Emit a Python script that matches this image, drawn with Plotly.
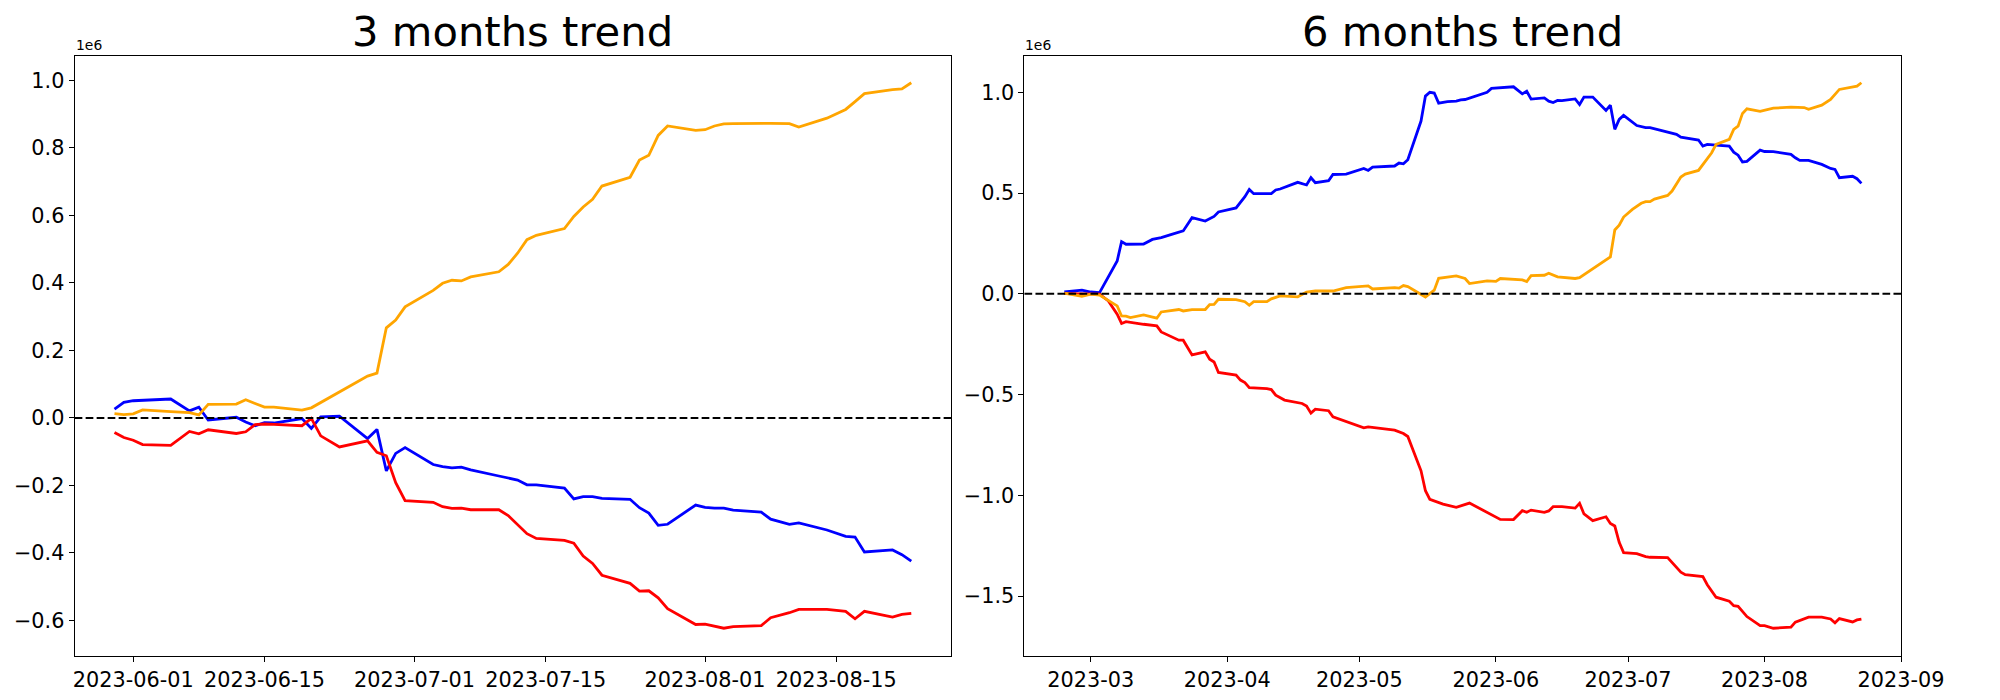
import pandas as pd
import plotly.graph_objects as go

# ---------------- 3 months panel (values in millions) ----------------
dates_3m = ["05-30", "05-31", "06-01", "06-02", "06-05", "06-07", "06-08", "06-09", "06-12", "06-13",
            "06-14", "06-15", "06-16", "06-19", "06-20", "06-21", "06-23", "06-26", "06-27", "06-28",
            "06-29", "06-30", "07-03", "07-04", "07-05", "07-06", "07-07", "07-10", "07-11", "07-12",
            "07-13", "07-14", "07-17", "07-18", "07-19", "07-20", "07-21", "07-24", "07-25", "07-26",
            "07-27", "07-28", "07-31", "08-01", "08-02", "08-03", "08-04", "08-07", "08-08", "08-10",
            "08-11", "08-14", "08-16", "08-17", "08-18", "08-21", "08-22", "08-23"]
blue_3m = [0.026, 0.046, 0.051, 0.052, 0.056, 0.021, 0.032, -0.006, 0.002, -0.012,
           -0.023, -0.014, -0.015, -0.002, -0.031, 0.003, 0.005, -0.061, -0.034, -0.157,
           -0.105, -0.088, -0.138, -0.144, -0.148, -0.146, -0.154, -0.172, -0.177, -0.184,
           -0.198, -0.198, -0.208, -0.240, -0.233, -0.233, -0.238, -0.241, -0.266, -0.282,
           -0.318, -0.315, -0.258, -0.265, -0.267, -0.267, -0.273, -0.279, -0.300, -0.315,
           -0.311, -0.332, -0.351, -0.353, -0.397, -0.391, -0.405, -0.424]
orange_3m = [0.013, 0.010, 0.012, 0.024, 0.019, 0.016, 0.009, 0.040, 0.041, 0.054,
             0.043, 0.032, 0.032, 0.023, 0.030, 0.046, 0.077, 0.124, 0.133, 0.267,
             0.290, 0.329, 0.378, 0.399, 0.408, 0.406, 0.418, 0.433, 0.455, 0.488,
             0.528, 0.541, 0.561, 0.597, 0.625, 0.648, 0.687, 0.713, 0.764, 0.778,
             0.837, 0.865, 0.852, 0.854, 0.865, 0.871, 0.872, 0.874, 0.873, 0.872,
             0.862, 0.888, 0.914, 0.937, 0.961, 0.973, 0.975, 0.993]
red_3m = [-0.043, -0.058, -0.066, -0.079, -0.081, -0.040, -0.047, -0.035, -0.046, -0.041,
          -0.020, -0.018, -0.019, -0.023, -0.001, -0.053, -0.086, -0.068, -0.102, -0.112,
          -0.192, -0.245, -0.250, -0.263, -0.268, -0.267, -0.272, -0.272, -0.289, -0.315,
          -0.343, -0.357, -0.363, -0.371, -0.409, -0.431, -0.466, -0.490, -0.513, -0.512,
          -0.533, -0.565, -0.612, -0.611, -0.617, -0.623, -0.618, -0.615, -0.592, -0.577,
          -0.567, -0.567, -0.573, -0.595, -0.573, -0.590, -0.582, -0.579]

# ---------------- 6 months panel (values in millions) ----------------
blue_6m_dates = ["02-23", "02-27", "03-01", "03-03", "03-07", "03-08", "03-09", "03-13", "03-15", "03-17",
                 "03-19", "03-22", "03-24", "03-27", "03-29", "03-30", "04-03", "04-04", "04-05", "04-06",
                 "04-07", "04-11", "04-12", "04-13", "04-17", "04-19", "04-20", "04-21", "04-24", "04-25",
                 "04-28", "05-02", "05-03", "05-04", "05-09", "05-10", "05-11", "05-12", "05-15", "05-16",
                 "05-17", "05-18", "05-19", "05-21", "05-23", "05-24", "05-25", "05-30", "05-31", "06-05",
                 "06-07", "06-08", "06-09", "06-12", "06-13", "06-14", "06-15", "06-16", "06-19", "06-20",
                 "06-21", "06-23", "06-26", "06-27", "06-28", "06-29", "06-30", "07-03", "07-05", "07-06",
                 "07-10", "07-12", "07-13", "07-17", "07-18", "07-19", "07-21", "07-24", "07-25", "07-26",
                 "07-27", "07-28", "07-31", "08-01", "08-03", "08-07", "08-08", "08-09", "08-11", "08-14",
                 "08-16", "08-17", "08-18", "08-21", "08-22", "08-23"]
blue_6m = [0.009, 0.018, 0.009, 0.006, 0.163, 0.259, 0.246, 0.247, 0.270, 0.279,
           0.292, 0.312, 0.378, 0.361, 0.384, 0.406, 0.426, 0.452, 0.482, 0.518,
           0.497, 0.497, 0.515, 0.520, 0.553, 0.540, 0.576, 0.551, 0.561, 0.592,
           0.594, 0.622, 0.612, 0.629, 0.634, 0.649, 0.645, 0.665, 0.857, 0.981,
           1.000, 0.996, 0.946, 0.954, 0.956, 0.962, 0.964, 1.000, 1.019, 1.027,
           0.992, 1.005, 0.966, 0.972, 0.956, 0.949, 0.959, 0.958, 0.967, 0.939,
           0.976, 0.976, 0.910, 0.936, 0.816, 0.865, 0.885, 0.835, 0.824, 0.824,
           0.802, 0.791, 0.777, 0.763, 0.733, 0.741, 0.738, 0.733, 0.703, 0.688,
           0.654, 0.657, 0.713, 0.706, 0.705, 0.692, 0.675, 0.662, 0.662, 0.642,
           0.622, 0.617, 0.576, 0.583, 0.571, 0.548]

orange_6m_dates = ["02-23", "02-27", "03-01", "03-03", "03-07", "03-08", "03-09", "03-10", "03-13", "03-15",
                   "03-16", "03-17", "03-21", "03-22", "03-24", "03-27", "03-28", "03-29", "03-30", "04-03",
                   "04-05", "04-06", "04-07", "04-10", "04-11", "04-13", "04-17", "04-19", "04-21", "04-25",
                   "04-28", "05-03", "05-04", "05-09", "05-10", "05-11", "05-12", "05-16", "05-18", "05-19",
                   "05-23", "05-25", "05-26", "05-30", "06-01", "06-02", "06-07", "06-08", "06-09", "06-12",
                   "06-13", "06-15", "06-19", "06-20", "06-26", "06-27", "06-28", "06-29", "06-30", "07-02",
                   "07-04", "07-05", "07-06", "07-07", "07-10", "07-11", "07-13", "07-14", "07-17", "07-19",
                   "07-20", "07-21", "07-24", "07-25", "07-26", "07-27", "07-28", "07-31", "08-03", "08-07",
                   "08-10", "08-11", "08-14", "08-16", "08-18", "08-22", "08-23"]
orange_6m = [0.004, -0.012, -0.002, -0.006, -0.060, -0.110, -0.111, -0.118, -0.105, -0.118,
             -0.121, -0.090, -0.078, -0.085, -0.078, -0.078, -0.053, -0.052, -0.027, -0.029,
             -0.039, -0.057, -0.039, -0.039, -0.025, -0.010, -0.015, 0.009, 0.014, 0.014,
             0.031, 0.039, 0.024, 0.031, 0.028, 0.041, 0.036, -0.016, 0.018, 0.077,
             0.089, 0.076, 0.051, 0.064, 0.062, 0.076, 0.069, 0.061, 0.090, 0.092,
             0.102, 0.084, 0.076, 0.080, 0.171, 0.183, 0.317, 0.340, 0.381, 0.419,
             0.449, 0.457, 0.457, 0.470, 0.488, 0.510, 0.579, 0.594, 0.612, 0.667,
             0.700, 0.741, 0.766, 0.816, 0.832, 0.895, 0.918, 0.905, 0.921, 0.926,
             0.924, 0.915, 0.936, 0.964, 1.014, 1.030, 1.047]

red_6m_dates = ["02-23", "03-01", "03-03", "03-05", "03-07", "03-08", "03-09", "03-13", "03-16", "03-17",
                "03-21", "03-22", "03-24", "03-27", "03-28", "03-29", "03-30", "04-03", "04-04", "04-05",
                "04-06", "04-10", "04-11", "04-12", "04-14", "04-18", "04-19", "04-20", "04-21", "04-24",
                "04-25", "05-02", "05-03", "05-09", "05-11", "05-12", "05-15", "05-16", "05-17", "05-20",
                "05-23", "05-26", "05-31", "06-02", "06-05", "06-07", "06-08", "06-09", "06-12", "06-13",
                "06-14", "06-16", "06-19", "06-20", "06-21", "06-23", "06-26", "06-27", "06-28", "06-29",
                "06-30", "07-03", "07-05", "07-06", "07-10", "07-11", "07-13", "07-14", "07-18", "07-19",
                "07-20", "07-21", "07-24", "07-25", "07-26", "07-28", "07-31", "08-01", "08-03", "08-07",
                "08-08", "08-11", "08-14", "08-16", "08-17", "08-18", "08-21", "08-22", "08-23"]
red_6m = [0.001, -0.002, -0.002, -0.035, -0.101, -0.147, -0.138, -0.151, -0.159, -0.189,
          -0.230, -0.230, -0.303, -0.288, -0.324, -0.338, -0.390, -0.403, -0.428, -0.440,
          -0.465, -0.470, -0.475, -0.503, -0.527, -0.544, -0.557, -0.592, -0.572, -0.580,
          -0.610, -0.665, -0.660, -0.676, -0.693, -0.708, -0.878, -0.977, -1.020, -1.043,
          -1.059, -1.038, -1.097, -1.119, -1.120, -1.076, -1.084, -1.073, -1.084, -1.077,
          -1.056, -1.056, -1.063, -1.039, -1.092, -1.125, -1.106, -1.139, -1.152, -1.233,
          -1.284, -1.289, -1.304, -1.307, -1.309, -1.332, -1.381, -1.393, -1.403, -1.443,
          -1.472, -1.505, -1.525, -1.547, -1.550, -1.601, -1.646, -1.646, -1.659, -1.654,
          -1.629, -1.604, -1.604, -1.613, -1.632, -1.611, -1.628, -1.618, -1.614]

titles = ["3 months trend", "6 months trend"]
ticks_3m = ["2023-06-01", "2023-06-15", "2023-07-01", "2023-07-15", "2023-08-01", "2023-08-15"]
ticks_6m = ["2023-03-01", "2023-04-01", "2023-05-01", "2023-06-01", "2023-07-01", "2023-08-01", "2023-09-01"]
yticks_3m = [-0.6, -0.4, -0.2, 0.0, 0.2, 0.4, 0.6, 0.8, 1.0]
yticks_6m = [-1.5, -1.0, -0.5, 0.0, 0.5, 1.0]
SCALE = 1e6

FONT = "DejaVu Sans"
W, H = 2000, 700


def px_x(p):
    return p / W


def px_y(p):
    return 1 - p / H


def to_dates(lst):
    return pd.to_datetime(["2023-" + s for s in lst])


def pad_range(vals, frac=0.05):
    lo, hi = min(vals), max(vals)
    p = (hi - lo) * frac
    return [lo - p, hi + p]


def fmt(v):
    s = f"{v:.1f}"
    return s.replace("-", "\u2212")


fig = go.Figure()

d3 = to_dates(dates_3m)
for vals, col in [(blue_3m, "blue"), (red_3m, "red"), (orange_3m, "orange")]:
    fig.add_trace(go.Scatter(x=d3, y=[v * SCALE for v in vals], mode="lines",
                             line=dict(color=col, width=2.8), xaxis="x", yaxis="y",
                             showlegend=False, hoverinfo="skip"))

for dl, vals, col in [(blue_6m_dates, blue_6m, "blue"), (red_6m_dates, red_6m, "red"),
                      (orange_6m_dates, orange_6m, "orange")]:
    fig.add_trace(go.Scatter(x=to_dates(dl), y=[v * SCALE for v in vals], mode="lines",
                             line=dict(color=col, width=2.8), xaxis="x2", yaxis="y2",
                             showlegend=False, hoverinfo="skip"))

# axis ranges like matplotlib (5% margins)
x3 = [d3.min(), d3.max()]
span3 = x3[1] - x3[0]
xr3 = [x3[0] - span3 * 0.05, x3[1] + span3 * 0.05]
all6 = to_dates(blue_6m_dates + orange_6m_dates + red_6m_dates)
x6 = [all6.min(), all6.max()]
span6 = x6[1] - x6[0]
xr6 = [x6[0] - span6 * 0.05, x6[1] + span6 * 0.05]
yr3 = [v * SCALE for v in pad_range(blue_3m + orange_3m + red_3m)]
yr6 = [v * SCALE for v in pad_range(blue_6m + orange_6m + red_6m)]

dom_x1 = [px_x(75.3), px_x(971.5)]
dom_x2 = [px_x(1046.5), px_x(1943)]
dom_y = [px_y(655.5), px_y(55.5)]

tickfont = dict(family=FONT, size=20.8, color="black")
common = dict(showline=True, linecolor="black", linewidth=1.1, mirror=True,
              ticks="outside", ticklen=5, tickwidth=1.1, tickcolor="black",
              showgrid=False, zeroline=False, tickfont=tickfont)

fig.update_layout(
    width=W, height=H,
    margin=dict(l=0, r=0, t=0, b=0),
    paper_bgcolor="white", plot_bgcolor="white",
    font=dict(family=FONT, color="black"),
    xaxis=dict(domain=dom_x1, anchor="y", type="date", range=[str(xr3[0]), str(xr3[1])],
               tickvals=ticks_3m, ticktext=ticks_3m, **common),
    yaxis=dict(domain=dom_y, anchor="x", range=yr3,
               tickvals=[t * SCALE for t in yticks_3m], ticktext=[fmt(t) for t in yticks_3m], **common),
    xaxis2=dict(domain=dom_x2, anchor="y2", type="date", range=[str(xr6[0]), str(xr6[1])],
                tickvals=ticks_6m, ticktext=[t[:7] for t in ticks_6m], **common),
    yaxis2=dict(domain=dom_y, anchor="x2", range=yr6,
                tickvals=[t * SCALE for t in yticks_6m], ticktext=[fmt(t) for t in yticks_6m], **common),
)

dash = "7.7px,3.3px"
for xr, yr in [("x", "y"), ("x2", "y2")]:
    fig.add_shape(type="line", xref=f"{xr} domain", x0=0, x1=1, yref=yr, y0=0, y1=0,
                  line=dict(color="black", width=2.1, dash=dash), layer="above")

for dom, title in [(dom_x1, titles[0]), (dom_x2, titles[1])]:
    fig.add_annotation(text=title, xref="paper", yref="paper", x=(dom[0] + dom[1]) / 2,
                       y=px_y(57), xanchor="center", yanchor="bottom", showarrow=False,
                       font=dict(family=FONT, size=41.7, color="black"), borderpad=0)
    fig.add_annotation(text="1e6", xref="paper", yref="paper", x=dom[0], y=px_y(54),
                       xanchor="left", yanchor="bottom", showarrow=False,
                       font=dict(family=FONT, size=13.9, color="black"), borderpad=0)

fig.write_html("out.html", config={"displayModeBar": False},
               post_script="document.body.style.margin='0px';")
